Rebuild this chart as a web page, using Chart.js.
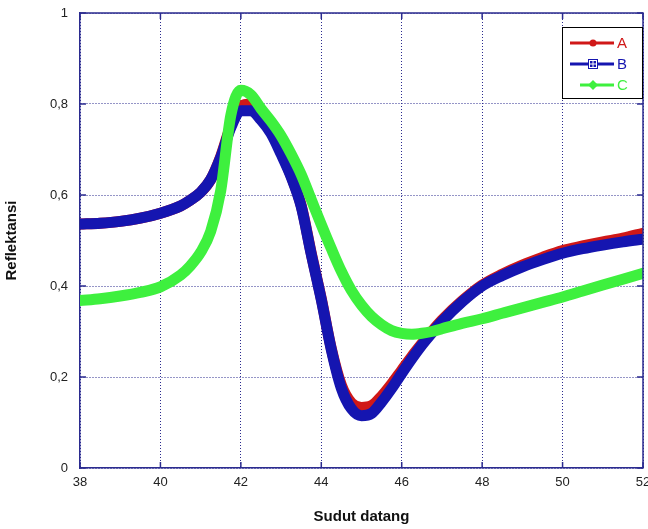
<!DOCTYPE html>
<html>
<head>
<meta charset="utf-8">
<script src="https://cdn.jsdelivr.net/npm/chart.js@4.4.1/dist/chart.umd.min.js"></script>
<style>
  html, body { margin: 0; padding: 0; background: #fff; }
  #wrap { width: 648px; height: 529px; }
</style>
</head>
<body>
<div id="wrap"><canvas id="myChart" width="648" height="529"></canvas></div>
<script>
// data
const angles = [38, 38.5, 39, 39.5, 40, 40.5, 40.75, 41, 41.25, 41.5, 41.75, 42, 42.25, 42.5, 42.75, 43, 43.25, 43.5, 43.75, 44, 44.25, 44.5, 44.75, 45, 45.25, 45.5, 45.75, 46, 46.25, 46.5, 46.75, 47, 47.5, 48, 48.5, 49, 49.5, 50, 50.5, 51, 51.5, 52];
const seriesA = [0.536, 0.538, 0.542, 0.549, 0.56, 0.576, 0.589, 0.606, 0.634, 0.685, 0.752, 0.795, 0.80, 0.78, 0.745, 0.695, 0.642, 0.577, 0.472, 0.372, 0.262, 0.182, 0.143, 0.133, 0.137, 0.158, 0.185, 0.215, 0.245, 0.273, 0.30, 0.325, 0.367, 0.402, 0.426, 0.446, 0.463, 0.478, 0.488, 0.497, 0.505, 0.516];
const seriesB = [0.536, 0.538, 0.542, 0.549, 0.56, 0.576, 0.589, 0.606, 0.634, 0.683, 0.748, 0.785, 0.785, 0.765, 0.735, 0.69, 0.64, 0.575, 0.47, 0.37, 0.26, 0.175, 0.13, 0.115, 0.12, 0.145, 0.175, 0.208, 0.24, 0.27, 0.297, 0.322, 0.365, 0.40, 0.423, 0.442, 0.458, 0.472, 0.482, 0.49, 0.497, 0.503];
const seriesC = [0.368, 0.372, 0.378, 0.386, 0.398, 0.424, 0.445, 0.474, 0.52, 0.61, 0.775, 0.83, 0.82, 0.79, 0.762, 0.73, 0.69, 0.645, 0.59, 0.535, 0.482, 0.432, 0.39, 0.358, 0.333, 0.315, 0.302, 0.296, 0.294, 0.296, 0.30, 0.306, 0.318, 0.328, 0.34, 0.352, 0.364, 0.376, 0.389, 0.402, 0.415, 0.428];
const seriesNames = ['A', 'B', 'C'];
const xTicks = [38, 40, 42, 44, 46, 48, 50, 52];
const yTicks = [0, 0.2, 0.4, 0.6, 0.8, 1];

const colA = '#d01818';
const colB = '#1515b0';
const colC = '#3ef03e';
const navy = '#2b2b8f';

function toPoints(ys) {
    return angles.map((a, i) => ({ x: a, y: ys[i] }));
}

// frame round the plot area, with short inner tick marks
const framePlugin = {
    id: 'frame',
    afterDraw(chart) {
        const a = chart.chartArea;
        const ctx = chart.ctx;
        ctx.save();
        ctx.strokeStyle = navy;
        ctx.lineWidth = 1.5;
        ctx.beginPath();
        ctx.moveTo(a.left, a.top);
        ctx.lineTo(a.right, a.top);
        ctx.lineTo(a.right, a.bottom);
        ctx.stroke();
        const xs = chart.scales.x, ys = chart.scales.y;
        yTicks.forEach(v => {
            const y = ys.getPixelForValue(v);
            ctx.beginPath(); ctx.moveTo(a.left, y); ctx.lineTo(a.left + 6, y); ctx.stroke();
            ctx.beginPath(); ctx.moveTo(a.right, y); ctx.lineTo(a.right - 6, y); ctx.stroke();
        });
        xTicks.forEach(v => {
            const x = xs.getPixelForValue(v);
            ctx.beginPath(); ctx.moveTo(x, a.bottom); ctx.lineTo(x, a.bottom - 6); ctx.stroke();
            ctx.beginPath(); ctx.moveTo(x, a.top); ctx.lineTo(x, a.top + 6); ctx.stroke();
        });
        ctx.restore();
    }
};

// legend box with line + marker like the original
const legendPlugin = {
    id: 'boxLegend',
    afterDraw(chart) {
        const a = chart.chartArea;
        const ctx = chart.ctx;
        const bx = a.right - 81, by = a.top + 14, bw = 80, bh = 71;
        ctx.save();
        ctx.fillStyle = '#fff';
        ctx.fillRect(bx, by, bw, bh);
        ctx.strokeStyle = '#000';
        ctx.lineWidth = 1;
        ctx.strokeRect(bx + 0.5, by + 0.5, bw, bh);
        const cols = [colA, colB, colC];
        const rows = [by + 16, by + 37, by + 58];
        ctx.font = '15px "Liberation Sans", Arial, sans-serif';
        ctx.textBaseline = 'middle';
        rows.forEach((y, i) => {
            ctx.strokeStyle = cols[i];
            ctx.fillStyle = cols[i];
            ctx.lineWidth = 3;
            ctx.beginPath();
            ctx.moveTo(bx + (i === 2 ? 18 : 8), y);
            ctx.lineTo(bx + 52, y);
            ctx.stroke();
            const mx = bx + 31;
            if (i === 0) {
                ctx.beginPath(); ctx.arc(mx, y, 3.5, 0, Math.PI * 2); ctx.fill();
            } else if (i === 1) {
                ctx.fillRect(mx - 5, y - 5, 10, 10);
                ctx.strokeStyle = '#fff';
                ctx.lineWidth = 1;
                ctx.strokeRect(mx - 3.5, y - 3.5, 7, 7);
                ctx.beginPath();
                ctx.moveTo(mx, y - 4); ctx.lineTo(mx, y + 4);
                ctx.moveTo(mx - 4, y); ctx.lineTo(mx + 4, y);
                ctx.stroke();
            } else {
                ctx.beginPath();
                ctx.moveTo(mx, y - 5); ctx.lineTo(mx + 5, y); ctx.lineTo(mx, y + 5); ctx.lineTo(mx - 5, y);
                ctx.closePath(); ctx.fill();
            }
            ctx.fillStyle = cols[i];
            ctx.fillText(seriesNames[i], bx + 55, y + 1);
        });
        ctx.restore();
    }
};

const ctx = document.getElementById('myChart').getContext('2d');
const myChart = new Chart(ctx, {
    type: 'line',
    data: {
        datasets: [{
            label: seriesNames[0],
            data: toPoints(seriesA),
            borderColor: colA,
            order: 2
        }, {
            label: seriesNames[1],
            data: toPoints(seriesB),
            borderColor: colB,
            order: 1
        }, {
            label: seriesNames[2],
            data: toPoints(seriesC),
            borderColor: colC,
            order: 0
        }]
    },
    options: {
        responsive: false,
        animation: false,
        layout: { padding: { top: 13, right: 5, left: 0, bottom: 0 } },
        elements: {
            line: { borderWidth: 11, cubicInterpolationMode: 'monotone', fill: false, borderCapStyle: 'round', borderJoinStyle: 'round' },
            point: { radius: 0 }
        },
        plugins: {
            legend: { display: false },
            tooltip: { enabled: false }
        },
        scales: {
            x: {
                type: 'linear',
                min: 38,
                max: 52,
                afterBuildTicks: s => { s.ticks = xTicks.map(v => ({ value: v })); },
                afterFit: s => { s.height = 61; s.paddingLeft = 0; s.paddingRight = 0; },
                ticks: {
                    padding: 7,
                    color: '#222',
                    font: { family: '"Liberation Sans", Arial, sans-serif', size: 13 }
                },
                grid: { color: navy, lineWidth: 1, drawTicks: false },
                border: { color: navy, width: 1.5, dash: [1, 2] },
                title: {
                    display: true,
                    text: 'Sudut datang',
                    color: '#111',
                    padding: { top: 0, bottom: 3 },
                    font: { family: '"Liberation Sans", Arial, sans-serif', size: 15, weight: 'bold' }
                }
            },
            y: {
                min: 0,
                max: 1,
                afterBuildTicks: s => { s.ticks = yTicks.map(v => ({ value: v })); },
                afterFit: s => { s.width = 80; s.paddingTop = 0; s.paddingBottom = 0; },
                ticks: {
                    padding: 12,
                    color: '#222',
                    font: { family: '"Liberation Sans", Arial, sans-serif', size: 13 },
                    callback: v => String(Math.round(v * 10) / 10).replace('.', ',')
                },
                grid: { color: navy, lineWidth: 1, drawTicks: false },
                border: { color: navy, width: 1.5, dash: [1, 2] },
                title: {
                    display: true,
                    text: 'Reflektansi',
                    color: '#111',
                    padding: { top: 3, bottom: 0 },
                    font: { family: '"Liberation Sans", Arial, sans-serif', size: 15, weight: 'bold' }
                }
            }
        }
    },
    plugins: [framePlugin, legendPlugin]
});
</script>
</body>
</html>
